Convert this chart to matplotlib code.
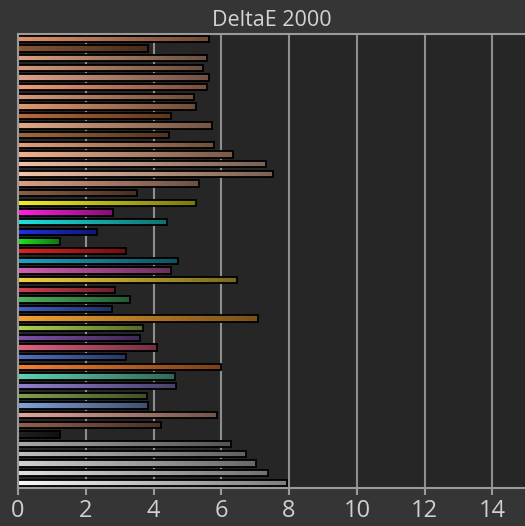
import numpy as np
import matplotlib
matplotlib.use("Agg")
import matplotlib.pyplot as plt

# DeltaE 2000 values, top bar first
values = [5.63, 3.85, 5.57, 5.45, 5.63, 5.57, 5.20, 5.25, 4.52, 5.73,
          4.45, 5.78, 6.35, 7.33, 7.52, 5.35, 3.50, 5.25, 2.80, 4.40,
          2.33, 1.24, 3.18, 4.73, 4.52, 6.46, 2.87, 3.30, 2.77, 7.09,
          3.70, 3.60, 4.10, 3.18, 5.99, 4.63, 4.66, 3.80, 3.83, 5.87,
          4.23, 1.24, 6.28, 6.73, 7.02, 7.38, 7.95]

colors = ["#e0906a", "#8a5535", "#d8a080", "#d49a7c", "#dca088", "#f09a7a",
          "#d89a7a", "#e09870", "#b86a3a", "#e0a888", "#a06840", "#e0a07a",
          "#f0b090", "#f0c0a8", "#f2c4a8", "#d8a088", "#8a6048", "#f0f020",
          "#ff20e0", "#20e0e0", "#2030e0", "#20e020", "#e02020", "#20a0c0",
          "#d060b0", "#f0d040", "#d04050", "#50b060", "#4060c0", "#f0a030",
          "#b0d050", "#8050a8", "#e06080", "#5070c0", "#f08030", "#60d0b0",
          "#9080d0", "#80a050", "#80a0d8", "#e0a898", "#906050", "#202020",
          "#a8a8a8", "#c0c0c0", "#d0d0d0", "#e0e0e0", "#f8f8f8"]

xticks = [0, 2, 4, 6, 8, 10, 12, 14]

fig = plt.figure(figsize=(5.25, 5.26), dpi=100, facecolor="#353535")
ax = fig.add_axes([18 / 525, 38 / 526, 507 / 525, 454.5 / 526])
ax.set_facecolor("#262626")

y = np.arange(len(values))
bars = ax.barh(y, values, height=0.66, color=colors, edgecolor="black",
               linewidth=1.3, zorder=2)

# darker towards the right end of each bar
grad = np.zeros((1, 100, 4))
grad[0, :, 3] = np.linspace(0.0, 0.5, 100)
for b in bars:
    x0, y0 = b.get_x(), b.get_y()
    im = ax.imshow(grad, extent=[x0, x0 + b.get_width(), y0, y0 + b.get_height()],
                   aspect="auto", zorder=3)
    im.set_clip_path(b)

ax.set_xlim(0, 14.96)
ax.set_ylim(len(values) - 0.45, -0.55)
ax.set_xticks(xticks)
ax.set_yticks([])
ax.xaxis.grid(True, color="#8e8e8e", linewidth=1.5, zorder=0)
ax.set_axisbelow(True)

for s in ["left", "top", "bottom"]:
    ax.spines[s].set_color("#9a9a9a")
    ax.spines[s].set_linewidth(1.5)
ax.spines["right"].set_visible(False)

ax.tick_params(axis="x", colors="#9a9a9a", length=5, width=1.5,
               labelcolor="#d0d0d0", labelsize=17, pad=3)
for lab in ax.get_xticklabels():
    lab.set_family("Open Sans")

fig.text((18 + 525) / 2 / 525, 1 - 20 / 526, "DeltaE 2000", ha="center",
         va="center", fontsize=15.5, color="#d4d4d4", family="Open Sans")

fig.savefig("out.png", dpi=100, facecolor=fig.get_facecolor())
